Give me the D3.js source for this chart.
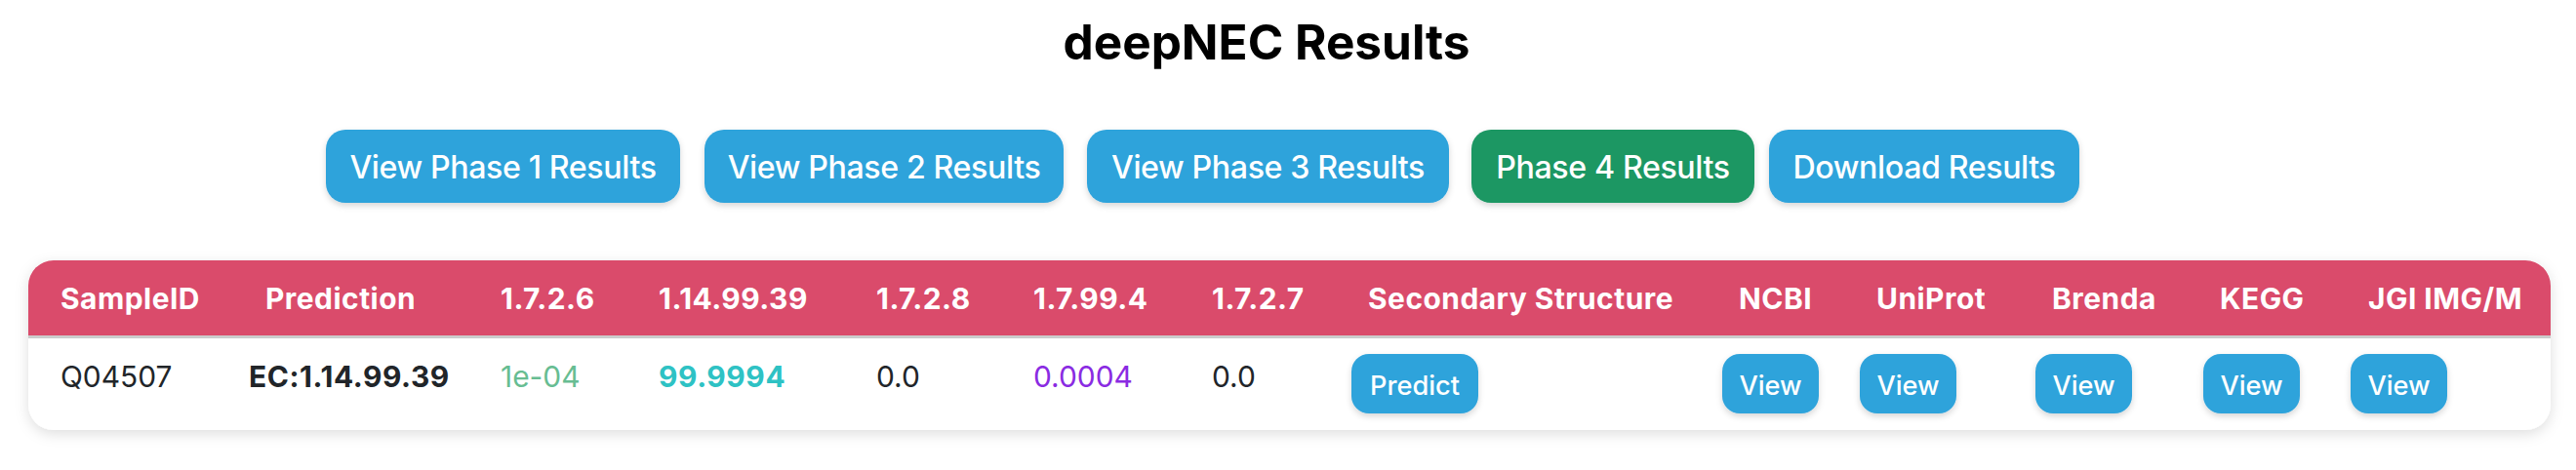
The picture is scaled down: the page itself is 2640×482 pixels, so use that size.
<!DOCTYPE html>
<html>
<head>
<meta charset="utf-8">
<script src="https://cdn.jsdelivr.net/npm/d3@7"></script>
<style>
  html, body { margin: 0; padding: 0; background: #fff; overflow: hidden; }
  svg { display: block; font-family: Inter, "Noto Sans", sans-serif; }
</style>
</head>
<body>
<div class="visHolder"></div>
<script>
// data
let pageTitle = 'deepNEC Results';
let navLabels = ['View Phase 1 Results', 'View Phase 2 Results', 'View Phase 3 Results', 'Phase 4 Results', 'Download Results'];
let activeNav = 'Phase 4 Results';

let columns = ['SampleID', 'Prediction', '1.7.2.6', '1.14.99.39', '1.7.2.8', '1.7.99.4', '1.7.2.7',
               'Secondary Structure', 'NCBI', 'UniProt', 'Brenda', 'KEGG', 'JGI IMG/M'];
let sampleIds = ['Q04507'];
let predictions = ['EC:1.14.99.39'];
let ecClasses = ['1.7.2.6', '1.14.99.39', '1.7.2.8', '1.7.99.4', '1.7.2.7'];
let scores = ['1e-04', '99.9994', '0.0', '0.0004', '0.0'];
let structureLabel = ['Predict'];
let linkLabels = ['View', 'View', 'View', 'View', 'View'];

let width = 2640;
let height = 482;

let svg = d3.select('.visHolder').append('svg')
  .attr('width', width)
  .attr('height', height);

let defs = svg.append('defs');

defs.append('filter').attr('id', 'tableShadow')
  .attr('x', -0.05).attr('y', -0.3).attr('width', 1.1).attr('height', 1.6)
  .append('feDropShadow')
  .attr('dx', 0).attr('dy', 4).attr('stdDeviation', 7)
  .attr('flood-color', '#000').attr('flood-opacity', 0.13);

defs.append('filter').attr('id', 'btnShadow')
  .attr('x', -0.2).attr('y', -0.3).attr('width', 1.4).attr('height', 1.6)
  .append('feDropShadow')
  .attr('dx', 0).attr('dy', 3).attr('stdDeviation', 3)
  .attr('flood-color', '#000').attr('flood-opacity', 0.16);

// title
svg.append('text')
  .attr('x', 1298)
  .attr('y', 61)
  .attr('text-anchor', 'middle')
  .attr('font-size', 49.5)
  .attr('font-weight', 700)
  .attr('fill', '#000')
  .text(pageTitle);

// nav buttons
let navLeft = d3.scaleOrdinal().domain(navLabels).range([334, 722, 1114, 1508, 1813]);
let navRight = d3.scaleOrdinal().domain(navLabels).range([697, 1090, 1485, 1798, 2131]);

let nav = svg.append('g').selectAll('g')
  .data(navLabels)
  .join('g');

nav.append('rect')
  .attr('x', d => navLeft(d))
  .attr('y', 133)
  .attr('width', d => navRight(d) - navLeft(d))
  .attr('height', 75)
  .attr('rx', 20)
  .attr('fill', d => d === activeNav ? '#1d9764' : '#2ea3db')
  .attr('filter', 'url(#btnShadow)');

nav.append('text')
  .attr('x', d => (navLeft(d) + navRight(d)) / 2)
  .attr('y', 183)
  .attr('text-anchor', 'middle')
  .attr('font-size', 32.2)
  .attr('font-weight', 500)
  .attr('letter-spacing', -0.4)
  .attr('fill', '#fff')
  .text(d => d);

// table
let tLeft = 29, tRight = 2614, tTop = 267, tHead = 344, tBottom = 441;

defs.append('clipPath').attr('id', 'tableClip')
  .append('rect')
  .attr('x', tLeft).attr('y', tTop)
  .attr('width', tRight - tLeft).attr('height', tBottom - tTop)
  .attr('rx', 26);

svg.append('rect')
  .attr('x', tLeft).attr('y', tTop)
  .attr('width', tRight - tLeft).attr('height', tBottom - tTop)
  .attr('rx', 26)
  .attr('fill', '#fff')
  .attr('filter', 'url(#tableShadow)');

let table = svg.append('g').attr('clip-path', 'url(#tableClip)');

table.append('rect')
  .attr('x', tLeft).attr('y', tTop)
  .attr('width', tRight - tLeft).attr('height', tHead - tTop)
  .attr('fill', '#da4b6b');

table.append('rect')
  .attr('x', tLeft).attr('y', tHead)
  .attr('width', tRight - tLeft).attr('height', 3)
  .attr('fill', '#cccccc');

// column positions
let headX = d3.scaleOrdinal().domain(columns)
  .range([62, 272, 513, 675, 898, 1059, 1242, 1402, 1782, 1923, 2103, 2275, 2427]);
let cellX = d3.scaleOrdinal().domain(columns)
  .range([62, 255, 513, 675, 898, 1059, 1242, 1385, 1765, 1906, 2086, 2258, 2409]);

table.append('g').selectAll('text')
  .data(columns)
  .join('text')
  .attr('x', d => headX(d))
  .attr('y', 317)
  .attr('font-size', 29.9)
  .attr('font-weight', 700)
  .attr('letter-spacing', 0.5)
  .attr('fill', '#fff')
  .text(d => d);

// text cells
let scoreColor = d3.scaleOrdinal().domain(ecClasses)
  .range(['#67bd92', '#2ec2c4', '#212529', '#8a2be2', '#212529']);

let textCells = [
  {col: 'SampleID', text: sampleIds[0], color: '#212529', bold: false},
  {col: 'Prediction', text: predictions[0], color: '#212529', bold: true}
].concat(ecClasses.map((ec, i) => ({
  col: ec,
  text: scores[i],
  color: scoreColor(ec),
  bold: predictions[0] === 'EC:' + ec
})));

table.append('g').selectAll('text')
  .data(textCells)
  .join('text')
  .attr('x', d => cellX(d.col))
  .attr('y', 397)
  .attr('font-size', 29.9)
  .attr('font-weight', d => d.bold ? 700 : 400)
  .attr('letter-spacing', d => d.bold ? 0.6 : 0)
  .attr('fill', d => d.color)
  .text(d => d.text);

// button cells
let btnCells = [{col: 'Secondary Structure', text: structureLabel[0], w: 130}]
  .concat(columns.slice(8).map((c, i) => ({col: c, text: linkLabels[i], w: 99})));

let btn = table.append('g').selectAll('g')
  .data(btnCells)
  .join('g');

btn.append('rect')
  .attr('x', d => cellX(d.col))
  .attr('y', 363)
  .attr('width', d => d.w)
  .attr('height', 61)
  .attr('rx', 18)
  .attr('fill', '#2ea3db')
  .attr('filter', 'url(#btnShadow)');

btn.append('text')
  .attr('x', d => cellX(d.col) + d.w / 2)
  .attr('y', 405)
  .attr('text-anchor', 'middle')
  .attr('font-size', 27.2)
  .attr('font-weight', 500)
  .attr('fill', '#fff')
  .text(d => d.text);
</script>
</body>
</html>
